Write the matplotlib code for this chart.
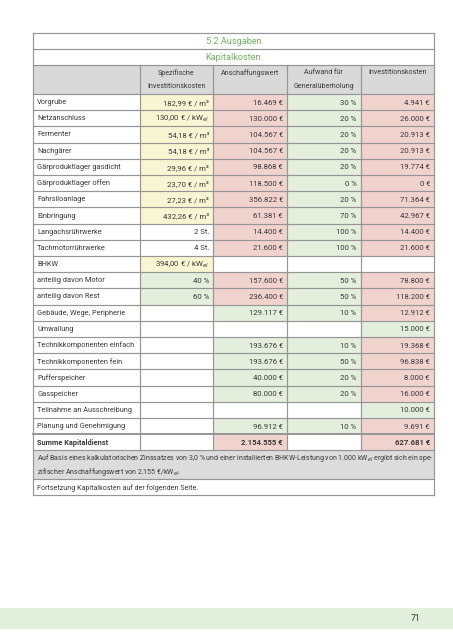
import matplotlib.pyplot as plt
from matplotlib.patches import Rectangle

plt.rcParams['font.family'] = ['Roboto', 'DejaVu Sans']
plt.rcParams['mathtext.fontset'] = 'custom'
plt.rcParams['mathtext.rm'] = 'Roboto'

# ---- data ----
title = "5.2 Ausgaben"
subtitle = "Kapitalkosten"
headers = ["", "Spezifische\nInvestitionskosten", "Anschaffungswert",
           "Aufwand für\nGeneralüberholung", "Investitionskosten"]

labels = ["Vorgrube", "Netzanschluss", "Fermenter", "Nachgärer",
          "Gärproduktlager gasdicht", "Gärproduktlager offen", "Fahrsiloanlage",
          "Einbringung", "Langachsrührwerke", "Tachmotorrührwerke", "BHKW",
          "anteilig davon Motor", "anteilig davon Rest", "Gebäude, Wege, Peripherie",
          "Umwallung", "Technikkomponenten einfach", "Technikkomponenten fein",
          "Pufferspeicher", "Gasspeicher", "Teilnahme an Ausschreibung",
          "Planung und Genehmigung", "Summe Kapitaldienst"]

spez = ["182,99 € / m³", "130,00 € / kW$_{el}$", "54,18 € / m³", "54,18 € / m³",
        "29,96 € / m³", "23,70 € / m³", "27,23 € / m³", "432,26 € / m³",
        "2 St.", "4 St.", "394,00 € / kW$_{el}$", "40 %", "60 %",
        "", "", "", "", "", "", "", "", ""]
anschaffung = ["16.469 €", "130.000 €", "104.567 €", "104.567 €", "98.868 €",
               "118.500 €", "356.822 €", "61.381 €", "14.400 €", "21.600 €", "",
               "157.600 €", "236.400 €", "129.117 €", "", "193.676 €", "193.676 €",
               "40.000 €", "80.000 €", "", "96.912 €", "2.154.555 €"]
aufwand = ["30 %", "20 %", "20 %", "20 %", "20 %", "0 %", "20 %", "70 %",
           "100 %", "100 %", "", "50 %", "50 %", "10 %", "", "10 %", "50 %",
           "20 %", "20 %", "", "10 %", ""]
invest = ["4.941 €", "26.000 €", "20.913 €", "20.913 €", "19.774 €", "0 €",
          "71.364 €", "42.967 €", "14.400 €", "21.600 €", "", "78.800 €",
          "118.200 €", "12.912 €", "15.000 €", "19.368 €", "96.838 €", "8.000 €",
          "16.000 €", "10.000 €", "9.691 €", "627.681 €"]

# cell fill codes: y = yellow, r = red, g = green, w = white
fill_spez = "yyyyyyyyww" + "ygg" + "w" * 9
fill_ansch = "rrrrrrrrrr" + "wrr" + "gwgggg" + "wgr"
fill_aufw = "gggggggggg" + "wgg" + "gwgggg" + "wgw"
fill_inv = "rrrrrrrrrr" + "wrr" + "rgrrrr" + "grr"

note1 = ("Auf Basis eines kalkulatorischen Zinssatzes von 3,0 % und einer installierten "
         "BHKW-Leistung von 1.000 kW$_{el}$ ergibt sich ein spe-")
note2 = "zifischer Anschaffungswert von 2.155 €/kW$_{el}$."
footer = "Fortsetzung Kapitalkosten auf der folgenden Seite."
page = "71"

# ---- layout ----
colors = {"y": "#f8f6d2", "r": "#f1d3ce", "g": "#e3efdc", "w": "white"}
grid = "#959595"
txt = "#3a3a3a"
green_txt = "#72b35e"
cols = [33, 140, 213, 287, 360.5, 434]
row_h = 16.2
y0 = 94

fig = plt.figure(figsize=(4.53, 6.4), dpi=100)
ax = fig.add_axes([0, 0, 1, 1])
ax.set_xlim(0, 453)
ax.set_ylim(640, 0)
ax.axis("off")

L, R = cols[0], cols[-1]
fs = 5.3

# title rows
ax.text((L + R) / 2, 41.5, title, ha="center", va="center", color=green_txt, fontsize=6.6)
ax.text((L + R) / 2, 57.5, subtitle, ha="center", va="center", color=green_txt, fontsize=6.6)

# header row
ax.add_patch(Rectangle((L, 65), R - L, y0 - 65, fc="#d9d9d9", ec="none"))
for i in range(1, 5):
    cx = (cols[i] + cols[i + 1]) / 2
    for k, line in enumerate(headers[i].split("\n")):
        ax.text(cx, 73 + k * 14, line, ha="center", va="center", color=txt, fontsize=5.1)

# data rows
fills = [fill_spez, fill_ansch, fill_aufw, fill_inv]
values = [spez, anschaffung, aufwand, invest]
for r, lab in enumerate(labels):
    top = y0 + r * row_h
    cy = top + row_h / 2 + 0.5
    bold = "bold" if r == len(labels) - 1 else "normal"
    for c in range(4):
        x0, x1 = cols[c + 1], cols[c + 2]
        ax.add_patch(Rectangle((x0, top), x1 - x0, row_h, fc=colors[fills[c][r]], ec="none"))
        if values[c][r]:
            ax.text(x1 - 4, cy, values[c][r], ha="right", va="center", color=txt,
                    fontsize=fs + 0.3, fontweight=bold)
    ax.text(L + 4, cy, lab, ha="left", va="center", color=txt, fontsize=fs, fontweight=bold)

n = len(labels)
y_end = y0 + n * row_h

# note rows
ax.add_patch(Rectangle((L, y_end), R - L, 29, fc="#dcdcdc", ec="none"))
ax.text(L + 4, y_end + 7.5, note1, ha="left", va="center", color=txt, fontsize=5.05)
ax.text(L + 4, y_end + 22, note2, ha="left", va="center", color=txt, fontsize=5.05)
ax.text(L + 4, y_end + 37.5, footer, ha="left", va="center", color=txt, fontsize=5.1)
y_bot = y_end + 45

# grid lines
lw = 0.85
for y in [33, 49, 65, y0]:
    ax.plot([L, R], [y, y], color=grid, lw=lw)
for r in range(1, n + 1):
    y = y0 + r * row_h
    ax.plot([L, R], [y, y], color=grid, lw=1.4 if r == n - 1 else lw)
ax.plot([L, R], [y_end + 29, y_end + 29], color=grid, lw=lw)
ax.plot([L, R], [y_bot, y_bot], color=grid, lw=lw)
ax.plot([L, L], [33, y_bot], color=grid, lw=lw)
ax.plot([R, R], [33, y_bot], color=grid, lw=lw)
for x in cols[1:-1]:
    ax.plot([x, x], [65, y_end], color=grid, lw=lw)

# footer band
ax.add_patch(Rectangle((0, 608), 453, 21, fc="#e2efda", ec="none"))
ax.text(415, 618.5, page, ha="center", va="center", color=txt, fontsize=6.2)

plt.savefig("out.png", dpi=100)
